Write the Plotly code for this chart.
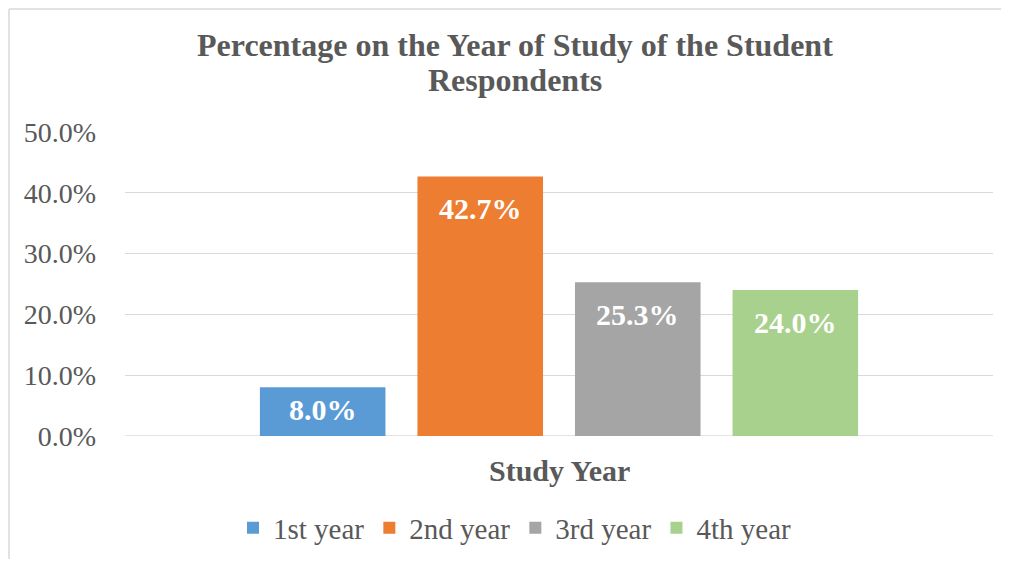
import plotly.graph_objects as go

categories = ["Study Year"]
series_names = ["1st year", "2nd year", "3rd year", "4th year"]
values = [0.080, 0.427, 0.253, 0.240]
colors = ["#5B9BD5", "#ED7D31", "#A5A5A5", "#A9D18E"]
y_ticks = [0.0, 0.1, 0.2, 0.3, 0.4, 0.5]
y_ticklabels = ["0.0%", "10.0%", "20.0%", "30.0%", "40.0%", "50.0%"]
title_lines = ["Percentage on the Year of Study of the Student", "Respondents"]
x_title = "Study Year"

OFF = 8  # page body margin compensation
W, H = 1009 - 2 * OFF, 567 - 2 * OFF
ML, MT = 125 - OFF, 132 - OFF
plot_w, plot_h = 868, 304
MR = W - ML - plot_w
MB = H - MT - plot_h
y_max = 0.5

font_fam = "Liberation Serif, Times New Roman, serif"
grey = "#595959"
border = "#D9D9D9"


def py(pix):
    """target screen pixel y -> paper y"""
    return (plot_h - (pix - OFF - MT)) / plot_h


def px(pix):
    return (pix - OFF - ML) / plot_w


bargap = 0.274
fig = go.Figure()
for name, v, c in zip(series_names, values, colors):
    fig.add_trace(go.Bar(
        x=categories, y=[v], name=name, marker=dict(color=c, line=dict(width=0)),
        hoverinfo="skip",
    ))

n = len(values)
slot = (1 - bargap) / n
annotations = []
for i, v in enumerate(values):
    px_h = v / y_max * plot_h
    shift = min(32, px_h / 2 - 2)
    annotations.append(dict(
        x=(i - (n - 1) / 2) * slot, y=v, xref="x", yref="y",
        text=f"{v*100:.1f}%", showarrow=False,
        yanchor="middle", yshift=-shift,
        font=dict(family=font_fam, size=30, color="white", weight="bold"),
    ))

annotations.append(dict(
    x=0.5, y=py(470), xref="paper", yref="paper",
    text=f"<b>{x_title}</b>", showarrow=False, yanchor="middle",
    font=dict(family=font_fam, size=30, color=grey),
))

for line, ypix in zip(title_lines, [45, 80]):
    annotations.append(dict(
        x=px(514.5), y=py(ypix), xref="paper", yref="paper",
        text=f"<b>{line}</b>", showarrow=False, yanchor="middle", xanchor="center",
        font=dict(family=font_fam, size=32, color=grey),
    ))

fig.update_layout(
    width=W, height=H,
    margin=dict(l=ML, r=MR, t=MT, b=MB, autoexpand=False),
    paper_bgcolor="white", plot_bgcolor="white",
    barmode="group", bargap=bargap, bargroupgap=0.203,
    showlegend=True,
    legend=dict(
        orientation="h", x=px(515), xanchor="center",
        y=py(528), yanchor="middle",
        font=dict(family=font_fam, size=29, color=grey),
        itemwidth=30, traceorder="normal",
    ),
    xaxis=dict(showticklabels=False, showgrid=False, zeroline=False,
               showline=False, ticks=""),
    yaxis=dict(range=[0, y_max], tickvals=y_ticks, ticktext=y_ticklabels,
               showgrid=True, gridcolor=border, gridwidth=1.3,
               zeroline=False, showline=False, ticks="",
               tickfont=dict(family=font_fam, size=28, color=grey),
               ticklabelstandoff=28),
    annotations=annotations,
    shapes=[
        dict(type="line", xref="paper", yref="paper",
             x0=px(OFF + 1), x1=px(OFF + 1), y0=py(567), y1=py(OFF + 1),
             line=dict(color=border, width=1.5), layer="below"),
        dict(type="line", xref="paper", yref="paper",
             x0=px(OFF + 1), x1=px(1009), y0=py(OFF + 1), y1=py(OFF + 1),
             line=dict(color=border, width=1.5), layer="below"),
    ],
)
fig.add_shape(type="line", xref="paper", yref="y", x0=0, x1=1, y0=0, y1=0,
              line=dict(color=border, width=1.3), layer="below")

fig.write_html("out.html")
